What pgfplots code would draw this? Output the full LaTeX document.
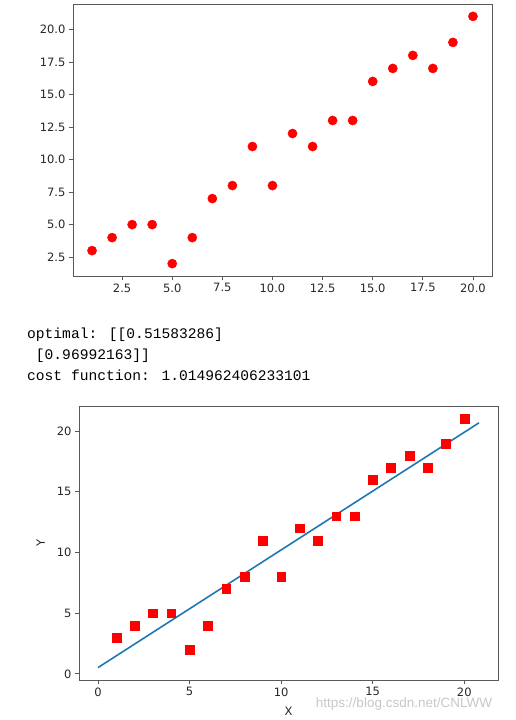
\documentclass[border=0pt]{standalone}
\usepackage{fontspec}
\setmainfont{DejaVu Sans}
\newfontfamily\monofont{Liberation Mono}
\newfontfamily\wmfont{Liberation Sans}
\usepackage{pgfplots}
\pgfplotsset{compat=1.18}
\pgfplotstableread{
x y
1 3
2 4
3 5
4 5
5 2
6 4
7 7
8 8
9 11
10 8
11 12
12 11
13 13
14 13
15 16
16 17
17 18
18 17
19 19
20 21
}\datatable
\begin{document}
\begin{tikzpicture}
\useasboundingbox (0pt,0pt) rectangle (516pt,-720pt);
\pgfplotsset{
  mystyle/.style={
    scale only axis,
    axis line style={black!65, line width=1pt},
    tick align=outside,
    xtick pos=left, ytick pos=left,
    major tick length=4pt,
    every tick/.style={black!65, line width=0.8pt},
    tick label style={font=\fontsize{11.5}{12}\selectfont, text=black!85},
    /pgf/number format/assume math mode=true,
  }
}
% top axis
\begin{axis}[mystyle,
  at={(73pt,-276pt)}, anchor=south west,
  width=419pt, height=272pt,
  xmin=0.05, xmax=20.95, ymin=1.05, ymax=21.95,
  xtick={2.5,5,7.5,10,12.5,15,17.5,20},
  xticklabels={2.5,5.0,7.5,10.0,12.5,15.0,17.5,20.0},
  ytick={2.5,5,7.5,10,12.5,15,17.5,20},
  yticklabels={2.5,5.0,7.5,10.0,12.5,15.0,17.5,20.0},
]
\addplot[only marks, mark=*, mark size=4.6pt, red, mark options={fill=red, draw=red}] table[x=x,y=y] {\datatable};
\end{axis}
% text
\node[anchor=base west, inner sep=0pt, font=\monofont\fontsize{14.6}{21}\selectfont] at (27pt,-338pt) {optimal: [[0.51583286]};
\node[anchor=base west, inner sep=0pt, font=\monofont\fontsize{14.6}{21}\selectfont] at (27pt,-359pt) {\phantom{o}[0.96992163]]};
\node[anchor=base west, inner sep=0pt, font=\monofont\fontsize{14.6}{21}\selectfont] at (27pt,-380pt) {cost function: 1.014962406233101};
% bottom axis
\begin{axis}[mystyle,
  at={(79pt,-680pt)}, anchor=south west,
  width=419pt, height=273.3pt,
  xmin=-1.04, xmax=21.84, ymin=-0.51, ymax=22.02,
  xtick={0,5,10,15,20}, ytick={0,5,10,15,20},
  xlabel={X}, ylabel={Y},
  label style={font=\fontsize{11.5}{12}\selectfont, text=black!85},
  xlabel style={yshift=-4pt},
  ylabel style={yshift=5pt},
]
\addplot[color={rgb,255:red,31;green,119;blue,180}, line width=1.6pt] coordinates {(0,0.51583286) (20.8,20.6902028)};
\addplot[only marks, mark=square*, mark size=4.4pt, red, mark options={fill=red, draw=red}] table[x=x,y=y] {\datatable};
\end{axis}
\node[anchor=base, inner sep=0pt, font=\wmfont\fontsize{13.5}{14}\selectfont, text=black!22] at (404pt,-707pt) {https://blog.csdn.net/CNLWW};
\end{tikzpicture}
\end{document}
